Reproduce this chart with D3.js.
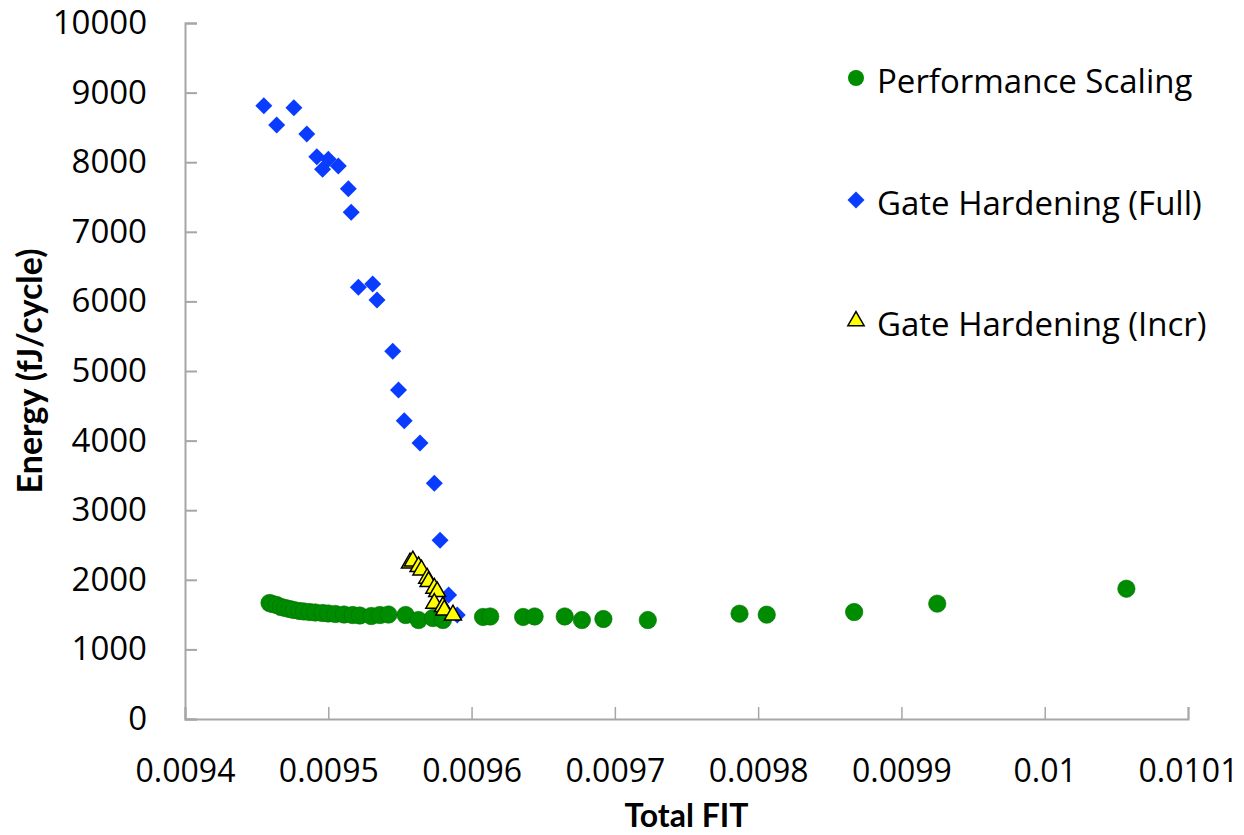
<!DOCTYPE html>
<html>
<head>
<meta charset="utf-8">
<script src="https://cdn.jsdelivr.net/npm/d3@7"></script>
<style>
  body { margin: 0; background: #fff; }
  svg { display: block; }
</style>
</head>
<body>
<div id="chart"></div>
<script>
// Performance Scaling (green circles)
const perfFit = [0.009459, 0.009461, 0.009464, 0.009467, 0.009470, 0.009473, 0.009476, 0.009480,
    0.009483, 0.009487, 0.009491, 0.009496, 0.009500, 0.009505, 0.009511, 0.009517, 0.009522,
    0.009530, 0.009536, 0.009542, 0.009554, 0.009563, 0.009573, 0.009580, 0.009608, 0.009613,
    0.009636, 0.009644, 0.009665, 0.009677, 0.009692, 0.009723, 0.009787, 0.009806, 0.009867,
    0.009925, 0.010057];
const perfEnergy = [1667, 1652, 1638, 1609, 1595, 1580, 1566, 1552, 1545, 1537, 1530, 1523, 1516,
    1509, 1501, 1494, 1487, 1480, 1494, 1501, 1494, 1422, 1451, 1422, 1466, 1473, 1466, 1473,
    1473, 1422, 1437, 1422, 1513, 1499, 1537, 1657, 1872];

// Gate Hardening (Full) (blue diamonds)
const fullFit = [0.009455, 0.009464, 0.009476, 0.009485, 0.009492, 0.009500, 0.009496, 0.009507,
    0.009514, 0.009516, 0.009521, 0.009531, 0.009534, 0.009545, 0.009549, 0.009553, 0.009564,
    0.009574, 0.009578, 0.009584, 0.009590];
const fullEnergy = [8812, 8534, 8783, 8405, 8079, 8042, 7898, 7945, 7619, 7280, 6203, 6250, 6020,
    5283, 4727, 4286, 3966, 3386, 2568, 1782, 1494];

// Gate Hardening (Incr) (yellow triangles)
const incrFit = [0.009557, 0.009559, 0.009563, 0.009565, 0.009569, 0.009570, 0.009574, 0.009576,
    0.009574, 0.009580, 0.009581, 0.009587];
const incrEnergy = [2241, 2270, 2188, 2141, 2022, 1973, 1878, 1829, 1662, 1614, 1566, 1494];

const xTicks = [0.0094, 0.0095, 0.0096, 0.0097, 0.0098, 0.0099, 0.01, 0.0101];
const yTicks = [0, 1000, 2000, 3000, 4000, 5000, 6000, 7000, 8000, 9000, 10000];
const seriesNames = ['Performance Scaling', 'Gate Hardening (Full)', 'Gate Hardening (Incr)'];

const width = 1244, height = 835;
const margin = { left: 185, right: 56, top: 23, bottom: 116 };

const svg = d3.select('#chart')
    .append('svg')
    .attr('width', width)
    .attr('height', height);

const x = d3.scaleLinear().domain([0.0094, 0.0101]).range([margin.left, width - margin.right]);
const y = d3.scaleLinear().domain([0, 10000]).range([height - margin.bottom, margin.top]);

const axisColor = '#a6a6a6';
const tickFont = '"Open Sans", sans-serif';

// Y axis (ticks point into the plot)
const yAxis = svg.append('g')
    .attr('transform', `translate(${margin.left},0)`)
    .call(d3.axisLeft(y).tickValues(yTicks).tickSize(-12).tickPadding(38).tickFormat(d3.format('d')));
yAxis.select('.domain').attr('stroke', axisColor).attr('stroke-width', 2);
yAxis.selectAll('.tick line').attr('stroke', axisColor).attr('stroke-width', 2);
yAxis.selectAll('.tick text')
    .style('font-family', tickFont)
    .style('font-size', '33px')
    .attr('fill', '#000');

// X axis
const xAxis = svg.append('g')
    .attr('transform', `translate(0,${height - margin.bottom})`)
    .call(d3.axisBottom(x).tickValues(xTicks).tickSize(-12).tickPadding(40)
        .tickFormat(d => d3.format('')(+d.toFixed(4))));
xAxis.select('.domain').attr('stroke', axisColor).attr('stroke-width', 2);
xAxis.selectAll('.tick line').attr('stroke', axisColor).attr('stroke-width', 1.5);
xAxis.selectAll('.tick text')
    .style('font-family', tickFont)
    .style('font-size', '32px')
    .attr('fill', '#000');

// Axis titles
svg.append('text')
    .attr('transform', `translate(42,${(margin.top + height - margin.bottom) / 2}) rotate(-90)`)
    .attr('text-anchor', 'middle')
    .style('font-family', 'Lato, sans-serif')
    .style('font-weight', 'bold')
    .style('font-size', '34px')
    .text('Energy (fJ/cycle)');

svg.append('text')
    .attr('x', (margin.left + width - margin.right) / 2)
    .attr('y', 827)
    .attr('text-anchor', 'middle')
    .style('font-family', 'Lato, sans-serif')
    .style('font-weight', 'bold')
    .style('font-size', '32px')
    .text('Total FIT');

// Symbols
const circleSym = d3.symbol().type(d3.symbolCircle).size(Math.PI * 8.7 * 8.7);
const diamondSym = d3.symbol().type(d3.symbolSquare).size(12 * 12);
const triangleSym = d3.symbol().type(d3.symbolTriangle).size(125);

const green = '#008c00', blue = '#0a3cff', yellow = '#ffff00';

const plot = svg.append('g');

plot.selectAll('.perf')
    .data(perfFit.map((f, i) => [f, perfEnergy[i]]))
    .enter()
    .append('path')
    .attr('class', 'perf')
    .attr('d', circleSym)
    .attr('transform', d => `translate(${x(d[0])},${y(d[1])})`)
    .attr('fill', green)
    .attr('stroke', '#007000')
    .attr('stroke-width', 0.6);

plot.selectAll('.full')
    .data(fullFit.map((f, i) => [f, fullEnergy[i]]))
    .enter()
    .append('path')
    .attr('class', 'full')
    .attr('d', diamondSym)
    .attr('transform', d => `translate(${x(d[0])},${y(d[1])}) rotate(45)`)
    .attr('fill', blue);

plot.selectAll('.incr')
    .data(incrFit.map((f, i) => [f, incrEnergy[i]]))
    .enter()
    .append('path')
    .attr('class', 'incr')
    .attr('d', triangleSym)
    .attr('transform', d => `translate(${x(d[0])},${y(d[1])})`)
    .attr('fill', yellow)
    .attr('stroke', '#000')
    .attr('stroke-width', 1.5);

// Legend
const legend = svg.append('g').attr('transform', 'translate(856,0)');
const legendRows = [
    { name: seriesNames[0], y: 78, sym: d3.symbol().type(d3.symbolCircle).size(Math.PI * 8 * 8), fill: green, stroke: 'none', rot: 0 },
    { name: seriesNames[1], y: 200, sym: diamondSym, fill: blue, stroke: 'none', rot: 45 },
    { name: seriesNames[2], y: 321, sym: d3.symbol().type(d3.symbolTriangle).size(115), fill: yellow, stroke: '#000', rot: 0 }
];
legendRows.forEach(r => {
    legend.append('path')
        .attr('d', r.sym())
        .attr('transform', `translate(0,${r.y}) rotate(${r.rot})`)
        .attr('fill', r.fill)
        .attr('stroke', r.stroke)
        .attr('stroke-width', 1.5);
    legend.append('text')
        .attr('x', 21)
        .attr('y', r.y + 15)
        .style('font-family', tickFont)
        .style('font-size', '33px')
        .attr('fill', '#000')
        .text(r.name);
});
</script>
</body>
</html>
